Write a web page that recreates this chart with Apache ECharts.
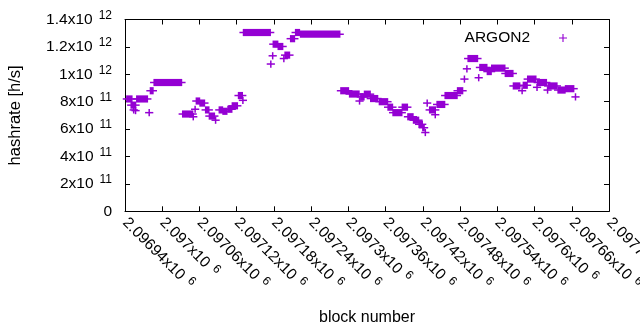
<!DOCTYPE html>
<html>
<head>
<meta charset="utf-8">
<script src="https://cdn.jsdelivr.net/npm/echarts@6/dist/echarts.min.js"></script>
<style>
html,body{margin:0;padding:0;background:#fff;}
#chart{width:640px;height:330px;}
</style>
</head>
<body>
<div id="chart"></div>
<script>
// Runs of blocks with the same hashrate (start block, end block, hashrate in h/s)
const runStart = [2096943,2096950,2096954,2096957,2096959,2096979,2096981,2096987,2097033,2097050,2097053,2097055,2097061,2097070,2097076,2097086,2097092,2097098,2097106,2097113,2097123,2097130,2097131,2097175,2097178,2097179,2097187,2097196,2097198,2097207,2097215,2097223,2097288,2097302,2097318,2097320,2097326,2097336,2097350,2097364,2097372,2097387,2097396,2097405,2097414,2097420,2097424,2097427,2097431,2097440,2097443,2097456,2097476,2097487,2097491,2097493,2097510,2097512,2097524,2097531,2097553,2097566,2097580,2097582,2097589,2097604,2097605,2097621,2097622,2097638,2097650,2097666];
const runEnd   = [2096951,2096957,2096954,2096957,2096976,2096979,2096985,2097031,2097049,2097050,2097053,2097060,2097068,2097075,2097084,2097086,2097097,2097104,2097112,2097121,2097129,2097130,2097174,2097175,2097178,2097186,2097194,2097196,2097205,2097213,2097221,2097286,2097300,2097317,2097318,2097325,2097335,2097347,2097363,2097371,2097386,2097395,2097404,2097413,2097419,2097422,2097424,2097427,2097440,2097440,2097455,2097475,2097484,2097487,2097491,2097508,2097510,2097523,2097530,2097552,2097565,2097576,2097580,2097588,2097602,2097604,2097619,2097621,2097636,2097649,2097663,2097666];
const runHashrate = [8.2e11,7.75e11,7.4e11,7.35e11,8.2e11,7.2e11,8.8e11,9.4e11,7.1e11,6.9e11,7.45e11,8.05e11,7.9e11,7.4e11,6.95e11,6.65e11,7.4e11,7.3e11,7.45e11,7.7e11,8.45e11,8.1e11,13.05e11,10.75e11,11.35e11,12.2e11,12.03e11,11.15e11,11.4e11,12.6e11,13.05e11,12.93e11,8.8e11,8.56e11,8.05e11,8.35e11,8.55e11,8.23e11,8.0e11,7.6e11,7.2e11,7.6e11,6.9e11,6.65e11,6.35e11,6.1e11,5.75e11,7.9e11,7.4e11,7.05e11,7.8e11,8.45e11,8.8e11,9.65e11,10.4e11,11.15e11,9.75e11,10.5e11,10.2e11,10.45e11,10.06e11,9.15e11,8.8e11,9.2e11,9.65e11,9.05e11,9.4e11,8.85e11,9.15e11,8.85e11,8.95e11,8.35e11];

const seriesName = 'ARGON2';
const xMin = 2096940, xMax = 2097720, xStep = 60;
const yMin = 0, yMax = 1.4e12, yStep = 2e11;

const color = '#9400D3';
const data = runStart.map((s, i) => [s, runEnd[i], runHashrate[i]]);

function sci(v, fixedExp) {
  if (v === 0) return '{b|0}';
  const e = fixedExp !== undefined ? fixedExp : Math.floor(Math.log10(v) + 1e-9);
  const m = parseFloat((v / Math.pow(10, e)).toPrecision(8));
  return '{b|' + m + 'x10}{s|' + e + '}';
}

const rich = {
  b: { fontFamily: 'Liberation Sans', fontSize: 15.5, color: '#000', lineHeight: 18 },
  s: { fontFamily: 'Liberation Sans', fontSize: 12, color: '#000', padding: [0, 0, 8, 6], lineHeight: 18 }
};

const chart = echarts.init(document.getElementById('chart'), null, { renderer: 'canvas' });
const H = 3.6;
chart.setOption({
  animation: false,
  backgroundColor: '#fff',
  textStyle: { fontFamily: 'Liberation Sans' },
  grid: { left: 125, right: 31, top: 19.5, bottom: 118.7, containLabel: false, outerBoundsMode: 'none' },
  legend: {
    show: true,
    right: 68, top: 25,
    align: 'right',
    itemWidth: 8, itemHeight: 8,
    data: [{ name: seriesName, icon: 'path://M4.3,0h1.4v4.3h4.3v1.4h-4.3v4.3h-1.4v-4.3h-4.3v-1.4h4.3z' }],
    textStyle: { fontFamily: 'Liberation Sans', fontSize: 15.5, color: '#000', padding: [0, 24, 0, 0] }
  },
  xAxis: [{
    type: 'value', min: xMin, max: xMax, interval: xStep,
    name: 'block number', nameLocation: 'middle', nameGap: 98,
    nameTextStyle: { fontFamily: 'Liberation Sans', fontSize: 16, color: '#000' },
    axisLine: { show: true, onZero: false, lineStyle: { color: '#000', width: 1 } },
    axisTick: { show: true, inside: true, length: 5, lineStyle: { color: '#000' } },
    splitLine: { show: false },
    axisLabel: {
      rotate: -45, margin: 9, showMinLabel: true, showMaxLabel: true,
      formatter: v => sci(v, 6), rich: rich
    }
  }, {
    type: 'value', min: xMin, max: xMax, interval: xStep, position: 'top',
    axisLine: { show: true, onZero: false, lineStyle: { color: '#000', width: 1 } },
    axisTick: { show: true, inside: true, length: 5, lineStyle: { color: '#000' } },
    splitLine: { show: false }, axisLabel: { show: false }
  }],
  yAxis: [{
    type: 'value', min: yMin, max: yMax, interval: yStep,
    name: 'hashrate [h/s]', nameLocation: 'middle', nameGap: 101, nameRotate: 90,
    nameTextStyle: { fontFamily: 'Liberation Sans', fontSize: 16.5, color: '#000' },
    axisLine: { show: true, onZero: false, lineStyle: { color: '#000', width: 1 } },
    axisTick: { show: true, inside: true, length: 5, lineStyle: { color: '#000' } },
    splitLine: { show: false },
    axisLabel: { margin: 13, formatter: v => sci(v), rich: rich }
  }, {
    type: 'value', min: yMin, max: yMax, interval: yStep, position: 'right',
    axisLine: { show: true, onZero: false, lineStyle: { color: '#000', width: 1 } },
    axisTick: { show: true, inside: true, length: 5, lineStyle: { color: '#000' } },
    splitLine: { show: false }, axisLabel: { show: false }
  }],
  series: [{
    name: seriesName,
    type: 'custom',
    itemStyle: { color: color },
    encode: { x: [0, 1], y: 2 },
    data: data,
    renderItem: function (params, api) {
      const p0 = api.coord([api.value(0), api.value(2)]);
      const p1 = api.coord([api.value(1), api.value(2)]);
      const w = p1[0] - p0[0];
      return {
        type: 'group',
        children: [
          { type: 'rect', shape: { x: p0[0] - 0.75, y: p0[1] - H, width: w + 1.5, height: 2 * H }, style: { fill: color } },
          { type: 'rect', shape: { x: p0[0] - H - 0.5, y: p0[1] - 0.75, width: w + 2 * H + 1, height: 1.5 }, style: { fill: color } }
        ]
      };
    }
  }]
});
</script>
</body>
</html>
